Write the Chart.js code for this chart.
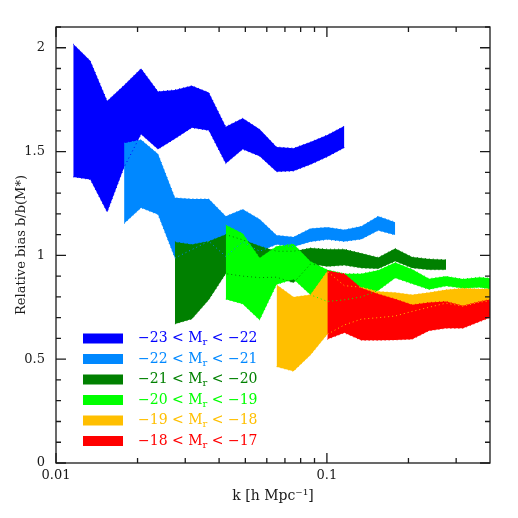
<!DOCTYPE html>
<html><head><meta charset="utf-8">
<script src="https://cdn.jsdelivr.net/npm/chart.js@4.4.1/dist/chart.umd.min.js"></script>
<style>html,body{margin:0;padding:0;background:#fff}canvas{display:block}</style>
</head><body>
<canvas id="c" width="518" height="518"></canvas>
<script>
// k bins [h/Mpc]
const kValues = [0.01158, 0.01338, 0.01545, 0.01784, 0.02061, 0.02380, 0.02748, 0.03174, 0.03665,
  0.04233, 0.04889, 0.05646, 0.06520, 0.07530, 0.08696, 0.1004, 0.1160, 0.1340, 0.1547, 0.1787,
  0.2063, 0.2383, 0.2752, 0.3178, 0.3670, 0.4239];

// first k-bin index for each band
const bandStart = [0, 3, 6, 9, 12, 15];

// -23 < Mr < -22
const blueUpper = [2.018, 1.937, 1.744, 1.820, 1.900, 1.789, 1.797, 1.817, 1.784, 1.620, 1.660, 1.607, 1.522, 1.516, 1.546, 1.580, 1.623];
const blueLower = [1.378, 1.366, 1.208, 1.425, 1.583, 1.511, 1.562, 1.615, 1.602, 1.442, 1.511, 1.478, 1.403, 1.406, 1.438, 1.475, 1.519];
// -22 < Mr < -21
const lightBlueUpper = [1.540, 1.557, 1.488, 1.277, 1.272, 1.272, 1.188, 1.222, 1.174, 1.097, 1.088, 1.129, 1.135, 1.123, 1.140, 1.189, 1.160];
const lightBlueLower = [1.153, 1.229, 1.197, 0.987, 1.028, 1.068, 0.995, 1.065, 1.020, 1.052, 1.042, 1.066, 1.076, 1.067, 1.078, 1.120, 1.098];
// -21 < Mr < -20
const darkGreenUpper = [1.065, 1.052, 1.068, 1.100, 1.075, 1.045, 1.020, 1.020, 1.036, 1.030, 1.030, 1.010, 0.990, 1.033, 0.992, 0.983, 0.979];
const darkGreenLower = [0.670, 0.693, 0.786, 0.912, 0.900, 0.893, 0.895, 0.868, 0.958, 0.947, 0.952, 0.939, 0.936, 0.972, 0.939, 0.931, 0.931];
// -20 < Mr < -19
const greenUpper = [1.146, 1.105, 0.987, 1.044, 1.055, 0.970, 0.931, 0.912, 0.912, 0.928, 0.966, 0.933, 0.888, 0.899, 0.886, 0.895, 0.886];
const greenLower = [0.789, 0.766, 0.689, 0.860, 0.885, 0.810, 0.778, 0.786, 0.800, 0.831, 0.891, 0.863, 0.836, 0.852, 0.842, 0.845, 0.834];
// -19 < Mr < -18
const orangeUpper = [0.858, 0.799, 0.810, 0.923, 0.854, 0.847, 0.826, 0.821, 0.810, 0.821, 0.834, 0.842, 0.838, 0.840];
const orangeLower = [0.464, 0.442, 0.520, 0.620, 0.665, 0.693, 0.700, 0.708, 0.730, 0.750, 0.770, 0.755, 0.775, 0.785];
// -18 < Mr < -17
const redUpper = [0.926, 0.912, 0.843, 0.814, 0.790, 0.762, 0.773, 0.778, 0.757, 0.778, 0.794];
const redLower = [0.596, 0.627, 0.591, 0.591, 0.593, 0.596, 0.637, 0.649, 0.649, 0.681, 0.714];

const bandColors = ['#0000ff', '#0088ff', '#008000', '#00ff00', '#ffbf00', '#ff0000'];
const legendLow = ['\u221223', '\u221222', '\u221221', '\u221220', '\u221219', '\u221218'];
const legendHigh = ['\u221222', '\u221221', '\u221220', '\u221219', '\u221218', '\u221217'];

const xMajorTicks = [0.01, 0.1];
const xTickLabels = ['0.01', '0.1'];
const xMinorTicks = [0.02, 0.03, 0.04, 0.05, 0.06, 0.07, 0.08, 0.09, 0.2, 0.3];
const yMajorTicks = [0, 0.5, 1, 1.5, 2];
const yTickLabels = ['0', '0.5', '1', '1.5', '2'];
const yMinorTicks = [0.1, 0.2, 0.3, 0.4, 0.6, 0.7, 0.8, 0.9, 1.1, 1.2, 1.3, 1.4, 1.6, 1.7, 1.8, 1.9, 2.1];

const bands = [
  {upper: blueUpper, lower: blueLower},
  {upper: lightBlueUpper, lower: lightBlueLower},
  {upper: darkGreenUpper, lower: darkGreenLower},
  {upper: greenUpper, lower: greenLower},
  {upper: orangeUpper, lower: orangeLower},
  {upper: redUpper, lower: redLower}
];

const datasets = [];
bands.forEach((b, j) => {
  const s = bandStart[j];
  const pts = arr => arr.map((v, n) => ({x: kValues[s + n], y: v}));
  const color = bandColors[j];
  datasets.push({data: pts(b.lower), borderColor: color, borderWidth: 1, borderDash: [1, 3],
    pointRadius: 0, fill: false, tension: 0, order: 0});
  datasets.push({data: pts(b.upper), borderColor: 'rgba(0,0,0,0)', borderWidth: 0,
    backgroundColor: color, fill: '-1', pointRadius: 0, tension: 0, order: 20 - j});
  datasets.push({data: pts(b.upper), borderColor: color, borderWidth: 1, borderDash: [1, 3],
    pointRadius: 0, fill: false, tension: 0, order: 0});
});

const framePlugin = {
  id: 'frame',
  afterDatasetsDraw(chart) {
    const {ctx, chartArea: a, scales: {x, y}} = chart;
    ctx.save();
    ctx.strokeStyle = '#1a1a1a';
    ctx.lineWidth = 1.3;
    ctx.strokeRect(a.left, a.top, a.right - a.left, a.bottom - a.top);
    ctx.beginPath();
    const xt = (v, len) => {
      const p = x.getPixelForValue(v);
      ctx.moveTo(p, a.bottom); ctx.lineTo(p, a.bottom - len);
      ctx.moveTo(p, a.top); ctx.lineTo(p, a.top + len);
    };
    const yt = (v, len) => {
      const p = y.getPixelForValue(v);
      ctx.moveTo(a.left, p); ctx.lineTo(a.left + len, p);
      ctx.moveTo(a.right, p); ctx.lineTo(a.right - len, p);
    };
    xMajorTicks.forEach(v => xt(v, 10));
    xMinorTicks.forEach(v => xt(v, 5));
    yMajorTicks.forEach(v => yt(v, 10));
    yMinorTicks.forEach(v => yt(v, 5));
    ctx.stroke();
    ctx.restore();
  },
  afterDraw(chart) {
    const ctx = chart.ctx;
    ctx.save();
    const x0 = 83, w = 40, h = 10, tx = 138;
    bandColors.forEach((c, j) => {
      const yc = 338.5 + j * 20.5;
      ctx.fillStyle = c;
      ctx.fillRect(x0, yc - h / 2, w, h);
      ctx.textBaseline = 'middle';
      ctx.textAlign = 'left';
      ctx.font = '14px "DejaVu Serif"';
      let p = tx;
      const t1 = legendLow[j] + ' < M';
      ctx.fillText(t1, p, yc);
      p += ctx.measureText(t1).width;
      ctx.font = '10px "DejaVu Serif"';
      ctx.fillText('r', p, yc + 4);
      p += ctx.measureText('r').width;
      ctx.font = '14px "DejaVu Serif"';
      ctx.fillText(' < ' + legendHigh[j], p, yc);
    });
    ctx.restore();
  }
};

Chart.defaults.font.family = '"DejaVu Serif", serif';
Chart.defaults.font.size = 13;
Chart.defaults.color = '#1a1a1a';

new Chart(document.getElementById('c'), {
  type: 'line',
  data: {datasets},
  options: {
    responsive: false,
    animation: false,
    devicePixelRatio: 1,
    layout: {padding: {top: 27, right: 28, left: 0, bottom: 0}},
    plugins: {legend: {display: false}, tooltip: {enabled: false}},
    elements: {line: {tension: 0}},
    scales: {
      x: {
        type: 'logarithmic', min: 0.01, max: 0.4,
        grid: {display: false, drawTicks: false},
        border: {display: false},
        afterBuildTicks: s => { s.ticks = xMajorTicks.map(v => ({value: v})); },
        afterFit: s => { s.height = 55; },
        ticks: {padding: 5, maxRotation: 0, autoSkip: false,
          callback: v => xTickLabels[xMajorTicks.indexOf(v)]},
        title: {display: true, text: 'k [h Mpc\u207B\u00B9]', font: {size: 14}, padding: {top: 0, bottom: 13}}
      },
      y: {
        type: 'linear', min: 0, max: 2.1,
        grid: {display: false, drawTicks: false},
        border: {display: false},
        afterBuildTicks: s => { s.ticks = yMajorTicks.map(v => ({value: v})); },
        afterFit: s => { s.width = 56; },
        ticks: {padding: 11, autoSkip: false,
          callback: v => yTickLabels[yMajorTicks.indexOf(v)]},
        title: {display: true, text: 'Relative bias b/b(M*)', font: {size: 13}, padding: {top: 14, bottom: 0}}
      }
    }
  },
  plugins: [framePlugin]
});
</script>
</body></html>
